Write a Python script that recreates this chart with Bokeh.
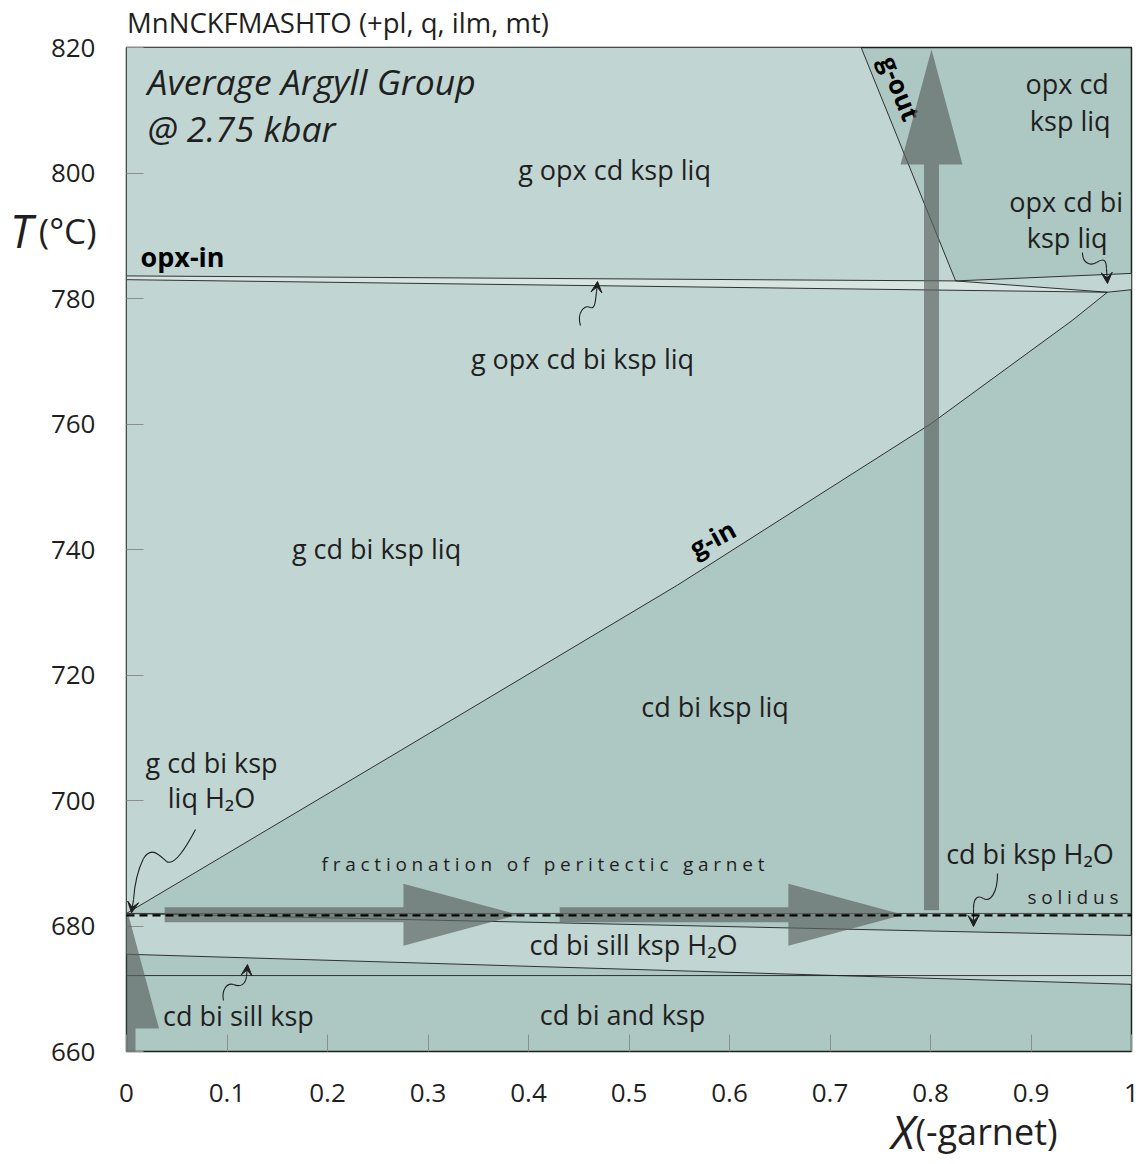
import math
from bokeh.plotting import figure
from bokeh.models import Range1d, FixedTicker, PolyAnnotation, Arrow, VeeHead, LinearAxis
from bokeh.core.properties import value
from bokeh.embed import file_html
from bokeh.resources import INLINE

FONT = "Open Sans"

# ---- axes -----------------------------------------------------------------
x_ticks = [0, 0.1, 0.2, 0.3, 0.4, 0.5, 0.6, 0.7, 0.8, 0.9, 1]
x_tick_labels = ["0", "0.1", "0.2", "0.3", "0.4", "0.5", "0.6", "0.7", "0.8", "0.9", "1"]
y_ticks = [660, 680, 700, 720, 740, 760, 780, 800, 820]
y_tick_labels = ["660", "680", "700", "720", "740", "760", "780", "800", "820"]
title_text = "MnNCKFMASHTO (+pl, q, ilm, mt)"
title_at = 0.2104                      # centre of the title above the frame
y_title_at = 790.8                     # T (degC) sits between the 780 and 800 labels
x_title_at = [0.7726, 0.8557]          # "X" and "(-garnet)"

# ---- phase boundaries (X(-garnet), T in degC) -----------------------------
bi_out_X = [0.0, 0.825, 1.0]
bi_out_T = [783.6, 782.8, 784.0]
opx_in_X = [0.0, 0.976, 1.0]
opx_in_T = [783.0, 781.0, 781.4]
g_out_X = [0.731, 0.825, 0.976]
g_out_T = [820.0, 782.8, 781.0]
g_in_X = [0.0, 0.273, 0.548, 0.80, 0.941, 0.976]
g_in_T = [682.0, 708.0, 734.3, 760.0, 776.5, 781.0]
solidus_X = [0.0, 1.0]
solidus_T = [682.0, 682.0]
sill_in_X = [0.0, 1.0]
sill_in_T = [682.0, 678.5]
h2o_out_X = [0.0, 1.0]
h2o_out_T = [675.5, 670.7]
and_sill_X = [0.0, 1.0]
and_sill_T = [672.1, 672.1]
frac_line_X = [0.0, 1.0]
frac_line_T = [681.7, 681.7]

# ---- fractionation path (tail -> tip) ------------------------------------
path_X0 = [0.0015, 0.038, 0.431, 0.801]
path_T0 = [659.9, 681.8, 681.8, 682.5]
path_X1 = [0.0015, 0.390, 0.773, 0.801]
path_T1 = [682.0, 681.8, 681.8, 819.7]

# ---- field labels ---------------------------------------------------------
field_text = ["g opx cd ksp liq", "opx cd", "ksp liq", "opx cd bi", "ksp liq",
              "g opx cd bi ksp liq", "g cd bi ksp liq", "cd bi ksp liq",
              "g cd bi ksp", "liq H\u2082O", "cd bi ksp H\u2082O",
              "cd bi sill ksp H\u2082O", "cd bi sill ksp", "cd bi and ksp"]
field_X = [0.4856, 0.936, 0.939, 0.935, 0.936, 0.4537, 0.2488, 0.5856,
           0.0846, 0.0846, 0.899, 0.5045, 0.1114, 0.4935]
field_T = [800.6, 814.2, 808.3, 795.5, 789.7, 770.5, 740.2, 715.0,
           706.0, 700.4, 691.5, 677.1, 665.8, 665.95]

# ---- wiggly leaders: cubic bezier pieces (x0, t0, cx0, ct0, cx1, ct1, x1, t1)
leader_curves = [
    (0.4517, 775.70, 0.4478, 777.77, 0.4557, 779.04, 0.4617, 778.57),
    (0.4617, 778.57, 0.4667, 778.25, 0.4667, 780.00, 0.4677, 781.12),
    (0.9512, 787.33, 0.9512, 785.74, 0.9582, 785.10, 0.9652, 785.74),
    (0.9652, 785.74, 0.9711, 786.37, 0.9751, 786.37, 0.9751, 784.78),
    (0.0687, 695.38, 0.0597, 692.67, 0.0478, 689.48, 0.0398, 690.28),
    (0.0398, 690.28, 0.0328, 691.24, 0.0249, 692.83, 0.0169, 690.76),
    (0.0169, 690.76, 0.0109, 688.84, 0.0080, 686.45, 0.0070, 684.22),
    (0.8667, 688.37, 0.8667, 685.34, 0.8597, 683.75, 0.8527, 684.38),
    (0.8527, 684.38, 0.8468, 685.02, 0.8428, 684.38, 0.8428, 682.79),
    (0.0965, 668.13, 0.0945, 669.72, 0.0995, 671.00, 0.1065, 670.68),
    (0.1065, 670.68, 0.1134, 670.20, 0.1184, 670.68, 0.1194, 671.95),
]
leader_heads = [  # (x_start, t_start, x_end, t_end)
    (0.4677, 781.12, 0.4687, 782.71),
    (0.9751, 784.78, 0.9761, 782.39),
    (0.0070, 684.22, 0.0050, 682.10),
    (0.8428, 682.79, 0.8428, 679.92),
    (0.1194, 671.95, 0.1204, 673.86),
]

LIGHT = "#c1d6d3"
DARK = "#adc8c3"
PALE = "#d6e5e2"
INK = "#1f1f1f"
ARROW_FILL = "#5d6563"

X_MIN, X_MAX = 0.0, 1.0
T_MIN, T_MAX = 660.0, 820.0
W, H = 1141, 1164
B_LEFT, B_RIGHT, B_TOP, B_BOTTOM = 126, 10, 47, 113
FRAME_W = W - B_LEFT - B_RIGHT
FRAME_H = H - B_TOP - B_BOTTOM
PX_X = FRAME_W / (X_MAX - X_MIN)
PX_T = FRAME_H / (T_MAX - T_MIN)

p = figure(width=W, height=H, x_range=Range1d(X_MIN, X_MAX), y_range=Range1d(T_MIN, T_MAX),
           output_backend="svg", toolbar_location=None, title=None,
           min_border_left=B_LEFT, min_border_right=B_RIGHT,
           min_border_top=B_TOP, min_border_bottom=B_BOTTOM)
p.background_fill_color = DARK
p.border_fill_color = "white"
p.outline_line_color = INK
p.outline_line_width = 1.5
p.xgrid.visible = False
p.ygrid.visible = False

p.xaxis.ticker = FixedTicker(ticks=x_ticks)
p.xaxis.major_label_overrides = {t: s for t, s in zip(x_ticks, x_tick_labels)}
p.yaxis.ticker = FixedTicker(ticks=y_ticks)
p.yaxis.major_label_overrides = {t: s for t, s in zip(y_ticks, y_tick_labels)}
for ax in (p.xaxis, p.yaxis):
    ax.axis_line_color = None
    ax.major_tick_in = 17
    ax.major_tick_out = 0
    ax.minor_tick_line_color = None
    ax.major_tick_line_color = "#8a908f"
    ax.major_tick_line_width = 1
    ax.major_label_text_font = FONT
    ax.major_label_text_font_size = "26px"
    ax.major_label_text_color = INK
p.xaxis.major_label_standoff = 32
p.yaxis.major_label_standoff = 31


def text_axis(side, at, text, size, style, standoff):
    """A tick-less axis that carries a single label (axis titles, plot title)."""
    ax = LinearAxis(ticker=FixedTicker(ticks=[at]), major_label_overrides={at: text},
                    axis_line_color=None, major_tick_line_color=None,
                    minor_tick_line_color=None, major_tick_in=0, major_tick_out=0,
                    major_label_standoff=standoff, major_label_text_font=FONT,
                    major_label_text_font_size=size, major_label_text_font_style=style,
                    major_label_text_color=INK)
    p.add_layout(ax, side)


text_axis("above", title_at, title_text, "27.5px", "normal", 7)
text_axis("left", y_title_at, "(\u00b0C)", "35px", "normal", -49)
text_axis("left", y_title_at, "T", "45px", "italic", 3)
text_axis("below", x_title_at[0], "X", "45px", "italic", -4)
text_axis("below", x_title_at[1], "(-garnet)", "36px", "normal", -58)

# ---- fields ---------------------------------------------------------------
J1 = (g_out_X[1], g_out_T[1])
J2 = (g_out_X[2], g_out_T[2])
light_xs = [
    [X_MIN, g_out_X[0], J1[0], X_MIN],
    [J1[0], X_MAX, X_MAX, J2[0]],
    [X_MIN] + g_in_X[::-1],
    [X_MIN, X_MAX, X_MAX, X_MIN],
]
light_ts = [
    [T_MAX, g_out_T[0], J1[1], bi_out_T[0]],
    [J1[1], bi_out_T[2], opx_in_T[2], J2[1]],
    [opx_in_T[0]] + g_in_T[::-1],
    [sill_in_T[0], sill_in_T[1], h2o_out_T[1], h2o_out_T[0]],
]
p.patches(light_xs, light_ts, fill_color=LIGHT, line_color=None)
p.patch([X_MIN, J1[0], J2[0], X_MIN], [bi_out_T[0], J1[1], J2[1], opx_in_T[0]],
        fill_color=PALE, line_color=None)

# ---- boundaries -----------------------------------------------------------
for bx, bt in ((bi_out_X, bi_out_T), (opx_in_X, opx_in_T), (g_out_X, g_out_T),
               (g_in_X, g_in_T), (sill_in_X, sill_in_T), (h2o_out_X, h2o_out_T),
               (and_sill_X, and_sill_T)):
    p.line(bx, bt, line_color=INK, line_width=0.9)
p.line(solidus_X, solidus_T, line_color="#3a3a3a", line_width=0.9)


# ---- fractionation path arrows ---------------------------------------------
def arrow_outline(x0, t0, x1, t1, stem_half=7.5, head_half=31.0, head_len=115.0):
    ax_, ay_ = x0 * PX_X, t0 * PX_T
    bx_, by_ = x1 * PX_X, t1 * PX_T
    length = math.hypot(bx_ - ax_, by_ - ay_)
    ux, uy = (bx_ - ax_) / length, (by_ - ay_) / length
    nx, ny = -uy, ux
    hx, hy = bx_ - ux * head_len, by_ - uy * head_len
    pts = [(ax_ + nx * stem_half, ay_ + ny * stem_half),
           (hx + nx * stem_half, hy + ny * stem_half),
           (hx + nx * head_half, hy + ny * head_half),
           (bx_, by_),
           (hx - nx * head_half, hy - ny * head_half),
           (hx - nx * stem_half, hy - ny * stem_half),
           (ax_ - nx * stem_half, ay_ - ny * stem_half)]
    return [q[0] / PX_X for q in pts], [q[1] / PX_T for q in pts]


for x0, t0, x1, t1 in zip(path_X0, path_T0, path_X1, path_T1):
    xs, ts = arrow_outline(x0, t0, x1, t1)
    p.add_layout(PolyAnnotation(xs=xs, ys=ts, fill_color=ARROW_FILL, fill_alpha=0.68,
                                line_color=None))

frac = p.line(frac_line_X, frac_line_T, line_color="black", line_width=2.2, line_dash="8 5")
frac.level = "overlay"

# ---- leaders ----------------------------------------------------------------
cols = list(zip(*leader_curves))
p.bezier(x0=list(cols[0]), y0=list(cols[1]), cx0=list(cols[2]), cy0=list(cols[3]),
         cx1=list(cols[4]), cy1=list(cols[5]), x1=list(cols[6]), y1=list(cols[7]),
         line_color=INK, line_width=1.1)
for xs_, ts_, xe_, te_ in leader_heads:
    p.add_layout(Arrow(x_start=xs_, y_start=ts_, x_end=xe_, y_end=te_,
                       line_color=INK, line_width=1.1,
                       end=VeeHead(size=11, fill_color=INK, line_color=INK, line_width=1)))

# ---- text -------------------------------------------------------------------
p.text(field_X, field_T, text=field_text, text_font=value(FONT), text_font_size="27px",
       text_color=INK, text_align="center", text_baseline="alphabetic")

p.text([0.0209, 0.0209], [814.6, 807.2], text=["Average Argyll Group", "@ 2.75 kbar"],
       text_font=value(FONT), text_font_style="italic", text_font_size="35.5px",
       text_color=INK, text_align="left", text_baseline="alphabetic")

p.text([0.0139], [786.7], text=["opx-in"], text_font=value(FONT), text_font_style="bold",
       text_font_size="27px", text_color="black", text_align="left", text_baseline="alphabetic")
p.text([0.583], [741.8], text=["g-in"], angle=0.50, text_font=value(FONT),
       text_font_style="bold", text_font_size="26px", text_color="black",
       text_align="center", text_baseline="middle")
p.text([0.770], [813.5], text=["g-out"], angle=-1.186, text_font=value(FONT),
       text_font_style="bold", text_font_size="26px", text_color="black",
       text_align="center", text_baseline="middle")


def tracked(s):
    return "\u2005".join(s)


p.text([0.4144], [689.9], text=[tracked("fractionation of peritectic garnet")],
       text_font=value(FONT), text_font_size="19px", text_color=INK,
       text_align="center", text_baseline="alphabetic")
p.text([0.987], [684.6], text=[tracked("solidus")], text_font=value(FONT),
       text_font_size="19px", text_color=INK, text_align="right", text_baseline="alphabetic")

open("out.html", "w").write(file_html(p, INLINE))
